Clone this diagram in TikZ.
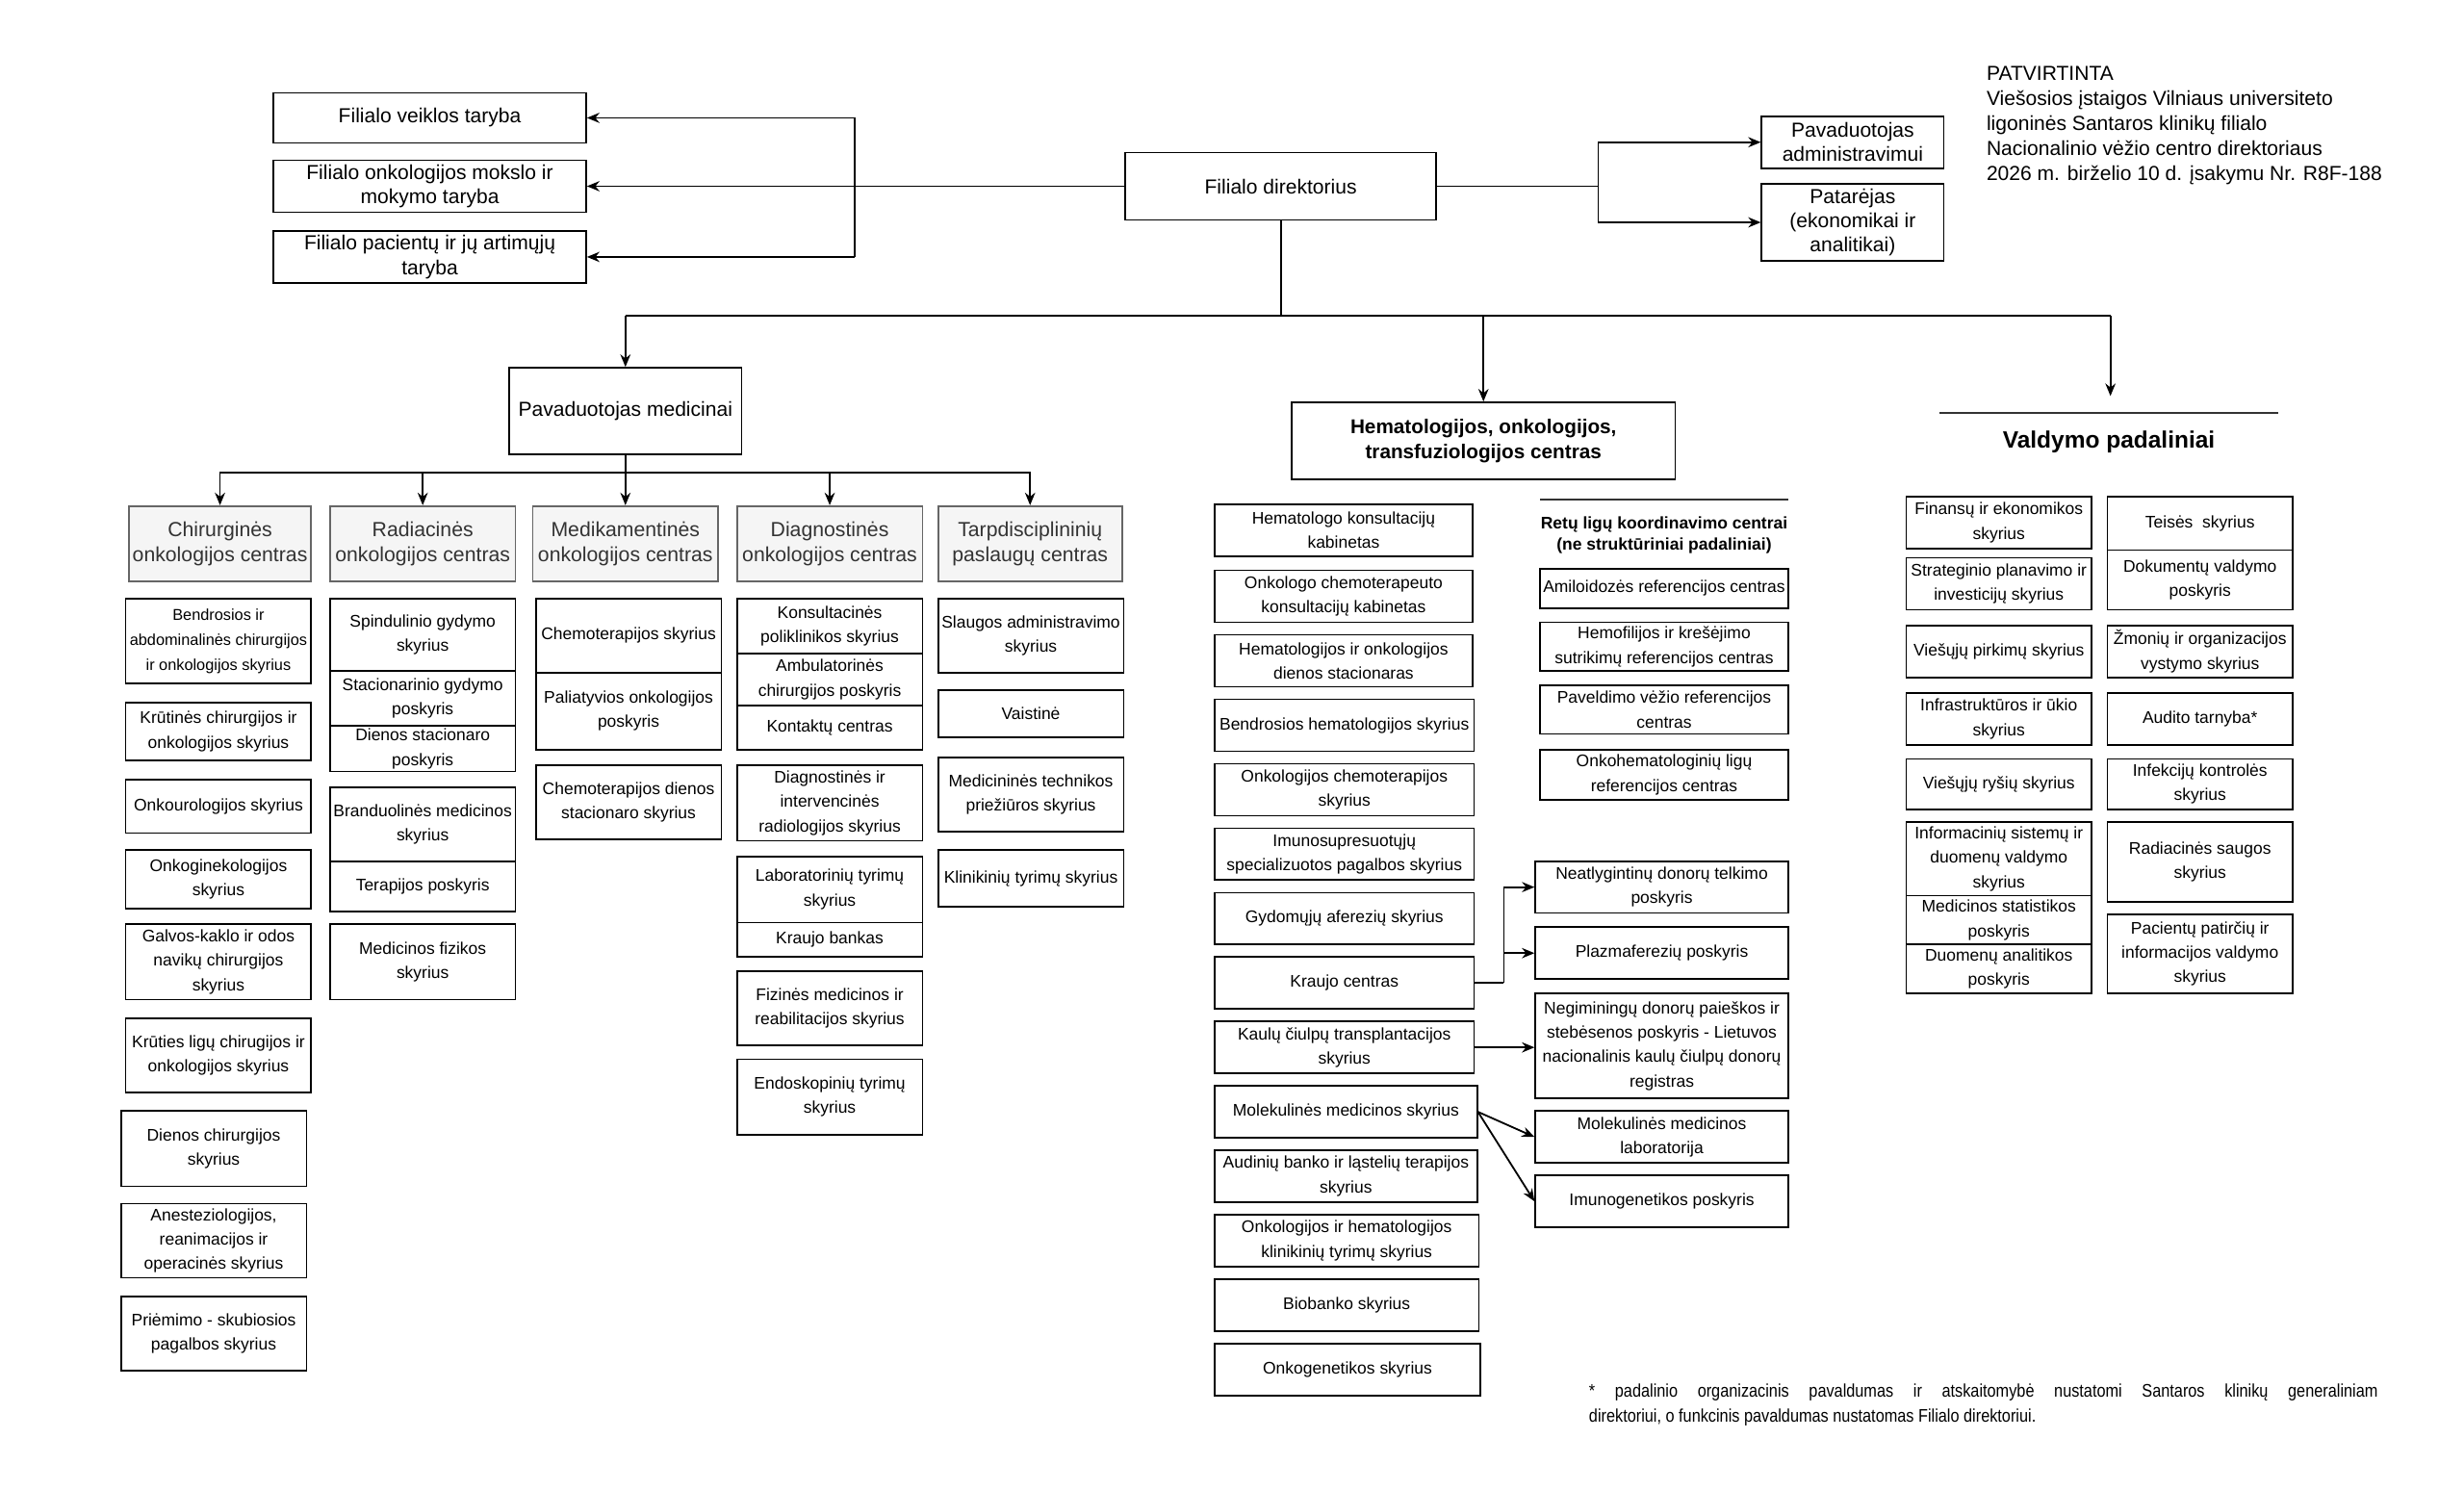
\documentclass[tikz,border=0pt]{standalone}
\usepackage{fontspec}
\setmainfont{Liberation Sans}
\newfontfamily\condfont[FakeStretch=0.86]{Liberation Sans}
\usetikzlibrary{arrows.meta,calc}
\definecolor{grayfill}{HTML}{F5F5F5}
\definecolor{grayline}{HTML}{666666}
\definecolor{graytext}{HTML}{333333}
\tikzset{
 box/.style={draw=black, line width=1pt, fill=white, inner sep=0pt, align=center, font=\fontsize{10.7}{15.5}\selectfont},
 topbox/.style={box, font=\fontsize{12.9}{15.5}\selectfont},
 cbox/.style={box, draw=grayline, fill=grayfill, text=graytext, font=\fontsize{13}{16}\selectfont},
 sbox/.style={box, font=\fontsize{10}{16}\selectfont},
 hbox/.style={box, font=\fontsize{12.7}{16}\selectfont\bfseries},
 conn/.style={line width=1.1pt},
 arr/.style={conn, -{Stealth[length=8pt,width=6.5pt]}},
 rule/.style={line width=1.2pt, draw=graytext},
}
\newcommand{\obox}[7][box]{%
 \pgfmathsetmacro{\obw}{#5-#3}\pgfmathsetmacro{\obh}{#6-#4}%
 \pgfmathsetmacro{\obcx}{(#3+#5)/2}\pgfmathsetmacro{\obcy}{(#4+#6)/2}%
 \node[#1, minimum width=\obw pt, minimum height=\obh pt] (#2) at (\obcx,\obcy) {#7};}
\begin{document}
\begin{tikzpicture}[x=1pt,y=-1pt]
\fill[white] (0,0) rectangle (1568,948);
\useasboundingbox (0,0) rectangle (1568,948);

% top level
\obox[topbox]{fvt}{174}{59}{373}{91}{Filialo veiklos taryba}
\obox[topbox]{fom}{174}{102}{373}{135}{Filialo onkologijos mokslo ir\\mokymo taryba}
\obox[topbox]{fpt}{174}{147}{373}{180}{Filialo pacientų ir jų artimųjų\\taryba}
\obox[topbox]{dir}{716}{97}{914}{140}{Filialo direktorius}
\obox[topbox]{pad}{1121}{74}{1237}{107}{Pavaduotojas\\administravimui}
\obox[topbox]{pat}{1121}{117}{1237}{166}{Patarėjas\\(ekonomikai ir\\analitikai)}
\obox[topbox]{pm}{324}{234}{472}{289}{Pavaduotojas medicinai}
\obox[hbox]{hc}{822}{256}{1066}{305}{Hematologijos, onkologijos,\\transfuziologijos centras}

% centres
\obox[cbox]{c1}{82}{322}{198}{370}{Chirurginės\\onkologijos centras}
\obox[cbox]{c2}{210}{322}{328}{370}{Radiacinės\\onkologijos centras}
\obox[cbox]{c3}{339}{322}{457}{370}{Medikamentinės\\onkologijos centras}
\obox[cbox]{c4}{469}{322}{587}{370}{Diagnostinės\\onkologijos centras}
\obox[cbox]{c5}{597}{322}{714}{370}{Tarpdisciplininių\\paslaugų centras}

% column 1
\obox[sbox]{a1}{80}{381}{198}{435}{Bendrosios ir\\abdominalinės chirurgijos\\ir onkologijos skyrius}
\obox{a2}{80}{447}{198}{484}{Krūtinės chirurgijos ir\\onkologijos skyrius}
\obox{a3}{80}{496}{198}{530}{Onkourologijos skyrius}
\obox{a4}{80}{541}{198}{578}{Onkoginekologijos\\skyrius}
\obox{a5}{80}{588}{198}{636}{Galvos-kaklo ir odos\\navikų chirurgijos\\skyrius}
\obox{a6}{80}{648}{198}{695}{Krūties ligų chirugijos ir\\onkologijos skyrius}
\obox{a7}{77}{707}{195}{755}{Dienos chirurgijos\\skyrius}
\obox{a8}{77}{766}{195}{813}{Anesteziologijos,\\reanimacijos ir\\operacinės skyrius}
\obox{a9}{77}{825}{195}{872}{Priėmimo - skubiosios\\pagalbos skyrius}

% column 2
\obox{b1}{210}{381}{328}{427}{Spindulinio gydymo\\skyrius}
\obox{b2}{210}{427}{328}{462}{Stacionarinio gydymo\\poskyris}
\obox{b3}{210}{462}{328}{491}{Dienos stacionaro\\poskyris}
\obox{b4}{210}{501}{328}{548}{Branduolinės medicinos\\skyrius}
\obox{b5}{210}{548}{328}{580}{Terapijos poskyris}
\obox{b6}{210}{588}{328}{636}{Medicinos fizikos\\skyrius}

% column 3
\obox{d1}{341}{381}{459}{428}{Chemoterapijos skyrius}
\obox{d2}{341}{428}{459}{477}{Paliatyvios onkologijos\\poskyris}
\obox{d3}{341}{487}{459}{534}{Chemoterapijos dienos\\stacionaro skyrius}

% column 4
\obox{e1}{469}{381}{587}{416}{Konsultacinės\\poliklinikos skyrius}
\obox{e2}{469}{416}{587}{449}{Ambulatorinės\\chirurgijos poskyris}
\obox{e3}{469}{449}{587}{477}{Kontaktų centras}
\obox{e4}{469}{487}{587}{535}{Diagnostinės ir\\intervencinės\\radiologijos skyrius}
\obox{e5}{469}{545}{587}{587}{Laboratorinių tyrimų\\skyrius}
\obox{e6}{469}{587}{587}{609}{Kraujo bankas}
\obox{e7}{469}{618}{587}{665}{Fizinės medicinos ir\\reabilitacijos skyrius}
\obox{e8}{469}{674}{587}{722}{Endoskopinių tyrimų\\skyrius}

% column 5
\obox{f1}{597}{381}{715}{428}{Slaugos administravimo\\skyrius}
\obox{f2}{597}{439}{715}{469}{Vaistinė}
\obox{f3}{597}{482}{715}{529}{Medicininės technikos\\priežiūros skyrius}
\obox{f4}{597}{541}{715}{577}{Klinikinių tyrimų skyrius}

% hematology left
\obox{h1}{773}{321}{937}{354}{Hematologo konsultacijų\\kabinetas}
\obox{h2}{773}{363}{937}{396}{Onkologo chemoterapeuto\\konsultacijų kabinetas}
\obox{h3}{773}{404}{937}{437}{Hematologijos ir onkologijos\\dienos stacionaras}
\obox{h4}{773}{445}{938}{478}{Bendrosios hematologijos skyrius}
\obox{h5}{773}{486}{938}{519}{Onkologijos chemoterapijos\\skyrius}
\obox{h6}{773}{527}{938}{560}{Imunosupresuotųjų\\specializuotos pagalbos skyrius}
\obox{h7}{773}{568}{938}{601}{Gydomųjų aferezių skyrius}
\obox{h8}{773}{609}{938}{642}{Kraujo centras}
\obox{h9}{773}{650}{938}{683}{Kaulų čiulpų transplantacijos\\skyrius}
\obox{h10}{773}{691}{940}{724}{Molekulinės medicinos skyrius}
\obox{h11}{773}{732}{940}{765}{Audinių banko ir ląstelių terapijos\\skyrius}
\obox{h12}{773}{773}{941}{806}{Onkologijos ir hematologijos\\klinikinių tyrimų skyrius}
\obox{h13}{773}{814}{941}{847}{Biobanko skyrius}
\obox{h14}{773}{855}{942}{888}{Onkogenetikos skyrius}

% hematology right
\draw[rule] (980,318) -- (1138,318);
\node[inner sep=0, align=center, font=\fontsize{10.7}{13.5}\selectfont\bfseries] (retu) at (1059,340.5) {Retų ligų koordinavimo centrai\\(ne struktūriniai padaliniai)};
\obox{r1}{980}{362}{1138}{387}{Amiloidozės referencijos centras}
\obox{r2}{980}{396}{1138}{427}{Hemofilijos ir krešėjimo\\sutrikimų referencijos centras}
\obox{r3}{980}{436}{1138}{467}{Paveldimo vėžio referencijos\\centras}
\obox{r4}{980}{477}{1138}{509}{Onkohematologinių ligų\\referencijos centras}
\obox{n1}{977}{548}{1138}{581}{Neatlygintinų donorų telkimo\\poskyris}
\obox{n2}{977}{590}{1138}{623}{Plazmaferezių poskyris}
\obox{n3}{977}{632}{1138}{699}{Negiminingų donorų paieškos ir\\stebėsenos poskyris - Lietuvos\\nacionalinis kaulų čiulpų donorų\\registras}
\obox{n4}{977}{707}{1138}{740}{Molekulinės medicinos\\laboratorija}
\obox{n5}{977}{748}{1138}{781}{Imunogenetikos poskyris}

% valdymo
\draw[rule] (1234,263) -- (1450,263);
\node[inner sep=0, font=\fontsize{15}{18}\selectfont\bfseries] (valdt) at (1342,281) {Valdymo padaliniai};
\obox{v1}{1213}{316}{1331}{349}{Finansų ir ekonomikos\\skyrius}
\obox{v2}{1213}{355}{1331}{388}{Strateginio planavimo ir\\investicijų skyrius}
\obox{v3}{1213}{398}{1331}{431}{Viešųjų pirkimų skyrius}
\obox{v4}{1213}{441}{1331}{474}{Infrastruktūros ir ūkio\\skyrius}
\obox{v5}{1213}{483}{1331}{515}{Viešųjų ryšių skyrius}
\obox{v6}{1213}{523}{1331}{570}{Informacinių sistemų ir\\duomenų valdymo\\skyrius}
\obox{v7}{1213}{570}{1331}{601}{Medicinos statistikos\\poskyris}
\obox{v8}{1213}{601}{1331}{632}{Duomenų analitikos\\poskyris}
\obox{w1}{1341}{316}{1459}{350}{Teisės\ \ skyrius}
\obox{w2}{1341}{350}{1459}{388}{Dokumentų valdymo\\poskyris}
\obox{w3}{1341}{398}{1459}{431}{Žmonių ir organizacijos\\vystymo skyrius}
\obox{w4}{1341}{441}{1459}{474}{Audito tarnyba*}
\obox{w5}{1341}{483}{1459}{515}{Infekcijų kontrolės\\skyrius}
\obox{w6}{1341}{523}{1459}{574}{Radiacinės saugos\\skyrius}
\obox{w7}{1341}{582}{1459}{632}{Pacientų patirčių ir\\informacijos valdymo\\skyrius}

% texts
\node[anchor=north west, align=left, inner sep=0, font=\fontsize{12.9}{16}\selectfont] (patv) at (1264,42) {PATVIRTINTA\\Viešosios įstaigos Vilniaus universiteto\\ligoninės Santaros klinikų filialo\\Nacionalinio vėžio centro direktoriaus\\2026 m. birželio 10 d. įsakymu Nr. R8F-188};
\node[anchor=north west, inner sep=0, text width=502pt, align=justify, font=\condfont\fontsize{11.6}{16}\selectfont] (fn) at (1011,880.5) {* padalinio organizacinis pavaldumas ir atskaitomybė nustatomi Santaros klinikų generaliniam\linebreak direktoriui, o funkcinis pavaldumas nustatomas Filialo direktoriui.};

% connectors: councils
\coordinate (lv1) at (544,75);
\coordinate (lv3) at (544,163.5);
\draw[conn] (lv1) -- (lv3);
\draw[arr] (lv1) -- (fvt.east);
\draw[arr] (lv3) -- (fpt.east);
\draw[arr] (dir.west) -- (fom.east);
% deputies
\coordinate (rj) at (1017,118.5);
\draw[conn] (dir.east) -- (rj);
\draw[arr] (rj) |- (pad.west);
\draw[arr] (rj) |- (pat.west);
% down
\coordinate (dj) at (815,201);
\coordinate (valc) at (1343,201);
\coordinate (vend) at (1343,252);
\draw[conn] (dir.south) -- (dj);
\draw[conn] (pm.north |- dj) -- (valc);
\draw[arr] (pm.north |- dj) -- (pm.north);
\draw[arr] (hc.north |- dj) -- (hc.north);
\draw[arr] (valc) -- (vend);
% medical centres
\coordinate (pj) at ($(pm.south)+(0,11)$);
\draw[conn] (pm.south) -- (pj);
\foreach \c in {c1,c2,c3,c4,c5} {\draw[arr] (pj) -| (\c.north);}
% hematology links
\coordinate (kj) at (957,625.5);
\draw[conn] (h8.east) -- (kj);
\draw[arr] (kj) |- (n1.west);
\draw[arr] (kj) |- (n2.west);
\draw[arr] (h9.east) -- (h9.east -| n3.west);
\draw[arr] (h10.east) -- (n4.west);
\draw[arr] (h10.east) -- (n5.west);
\end{tikzpicture}
\end{document}
